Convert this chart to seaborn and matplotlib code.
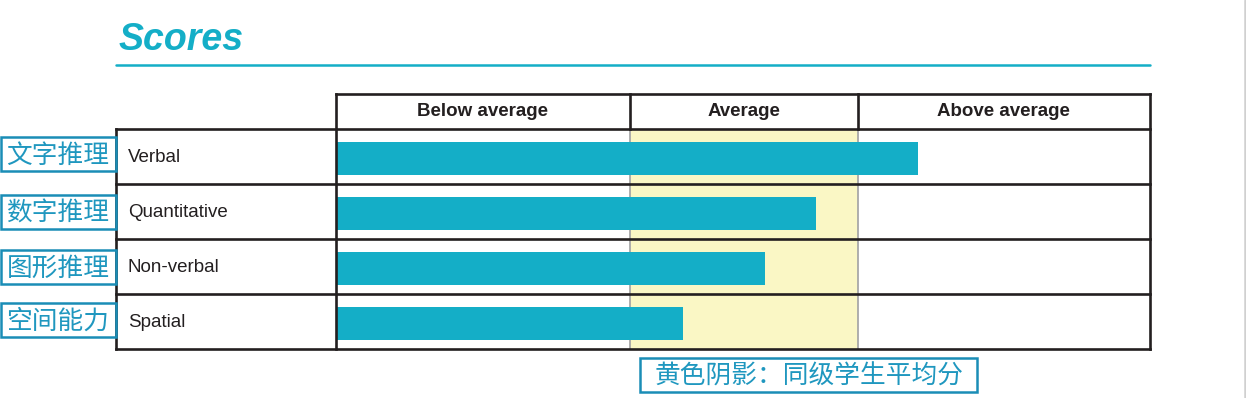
import matplotlib
matplotlib.use("Agg")
import matplotlib.pyplot as plt
from matplotlib.lines import Line2D
from matplotlib.patches import Rectangle
import seaborn as sns
import pandas as pd

# ---- data ----
categories = ["Verbal", "Quantitative", "Non-verbal", "Spatial"]
cn_labels = ["文字推理", "数字推理", "图形推理", "空间能力"]
scores = [71.5, 59.0, 52.7, 42.6]
bands = ["Below average", "Average", "Above average"]
band_edges = [0, 36.1, 64.1, 100]
title = "Scores"
note = "黄色阴影：同级学生平均分"

# ---- style ----
sns.set_theme(style="white")
plt.rcParams["font.family"] = ["Liberation Sans", "Noto Sans CJK SC", "DejaVu Sans"]

W, H = 1246, 398
TEAL = "#14aec7"
CN = "#1f97bf"
BOX = "#1a8db6"
BLACK = "#231f20"
GRAY = "#a8a8a8"
YELLOW = "#faf7c5"

fig = plt.figure(figsize=(W / 100, H / 100), dpi=100)
fig.patch.set_facecolor("white")

# axes = table body (bars area): px x 336..1150, y 129..349
L, R, T, B = 336, 1150, 129, 349
OFF = -0.036  # bars sit slightly below row centre
ax = fig.add_axes([L / W, 1 - B / H, (R - L) / W, (B - T) / H])
ax.set_facecolor("none")

df = pd.DataFrame({"category": categories, "score": scores})
sns.barplot(data=df, x="score", y="category", color=TEAL, width=0.6,
            saturation=1, linewidth=0, ax=ax, zorder=3)
ax.set_xlim(band_edges[0], band_edges[-1])
n = len(categories)
ax.set_ylim(n - 0.5 + OFF, -0.5 + OFF)
ax.set_xlabel("")
ax.set_ylabel("")
ax.set_xticks([])
ax.set_yticks([])
for s in ax.spines.values():
    s.set_visible(False)

# average band
ax.axvspan(band_edges[1], band_edges[2], color=YELLOW, zorder=0, lw=0)

ROW = (B - T) / n


def px2x(px):
    return (px - L) / (R - L) * (band_edges[-1] - band_edges[0]) + band_edges[0]


def py2y(py):
    return (py - T) / ROW - 0.5 + OFF


lw_black = 1.9
header_top = py2y(94)
x_left = px2x(116)
row_top = py2y(T)
row_bot = py2y(B)


def line(xs, ys, color=BLACK, lw=lw_black, z=5):
    ax.add_line(Line2D(xs, ys, color=color, lw=lw, clip_on=False, zorder=z,
                       solid_capstyle="projecting"))


# horizontal lines
line([band_edges[0], band_edges[-1]], [header_top, header_top])
for k in range(n + 1):
    y = py2y(T + k * ROW)
    line([x_left, band_edges[-1]], [y, y])
# outer verticals
line([x_left, x_left], [row_top, row_bot])
line([band_edges[0], band_edges[0]], [header_top, row_bot])
line([band_edges[-1], band_edges[-1]], [header_top, row_bot])
# inner verticals: black in header, gray in body
for e in band_edges[1:-1]:
    line([e, e], [header_top, row_top])
    line([e, e], [row_top, row_bot], color=GRAY, lw=1.3, z=1)

# header labels
for i, b in enumerate(bands):
    ax.text((band_edges[i] + band_edges[i + 1]) / 2, (header_top + row_top) / 2, b,
            ha="center", va="center", fontsize=13.5, fontweight="bold",
            color=BLACK, clip_on=False)

# row labels
for i, c in enumerate(categories):
    ax.text(px2x(128), py2y(T + ROW * (i + 0.5) + 1), c, ha="left", va="center",
            fontsize=13.5, color=BLACK, clip_on=False)

# Chinese boxed labels on the left
h = 34 / ROW
cn_centers_px = [154, 212, 267, 320]
for c, cy in zip(cn_labels, cn_centers_px):
    yc = py2y(cy)
    ax.add_patch(Rectangle((px2x(1), yc - h / 2), px2x(116) - px2x(1), h,
                           fill=False, ec=BOX, lw=1.8, clip_on=False, zorder=6))
    ax.text(px2x(58), yc + 0.03, c, ha="center", va="center", fontsize=18.5,
            color=CN, family=["Noto Sans CJK SC", "DejaVu Sans"], clip_on=False)

# bottom note box
yb = py2y(358)
ax.add_patch(Rectangle((px2x(640), yb), px2x(977) - px2x(640), h,
                       fill=False, ec=BOX, lw=1.8, clip_on=False, zorder=6))
ax.text(px2x(655), yb + h / 2 + 0.03, note, ha="left", va="center",
        fontsize=18.5, color=CN, family=["Noto Sans CJK SC", "DejaVu Sans"],
        clip_on=False)

# title and rule
fig.text(119 / W, 1 - 50 / H, title, ha="left", va="baseline", fontsize=27,
         fontweight="bold", fontstyle="italic", color=TEAL)
fig.add_artist(Line2D([116 / W, 1150 / W], [1 - 65 / H, 1 - 65 / H],
                      color=TEAL, lw=1.8))
# page edge
fig.add_artist(Line2D([1244.5 / W, 1244.5 / W], [0, 1], color="#d0d0d0", lw=1.8))

fig.savefig("out.png", dpi=100)
